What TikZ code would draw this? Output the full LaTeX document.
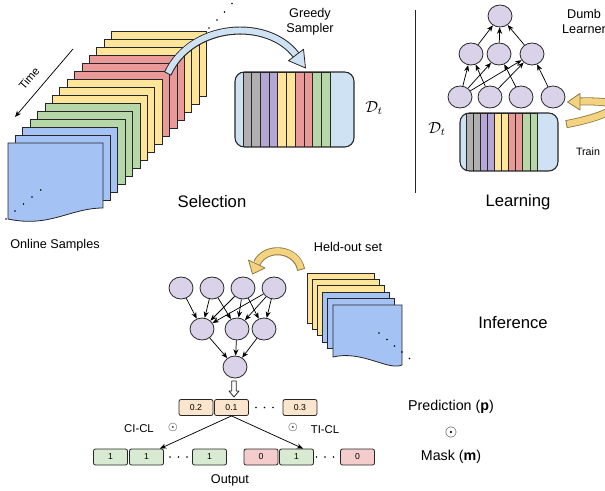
\documentclass[tikz,border=0pt]{standalone}
\usepackage{fontspec}
\setmainfont{Liberation Sans}
\usetikzlibrary{arrows.meta,shapes.geometric,calc}
\definecolor{cblue}{HTML}{A4C2F4}
\definecolor{cgreen}{HTML}{B6D7A8}
\definecolor{cyellow}{HTML}{FFE599}
\definecolor{cred}{HTML}{EA9999}
\definecolor{cgray}{HTML}{B0B0B0}
\definecolor{cpurple}{HTML}{B4A7D6}
\definecolor{cbuf}{HTML}{CFE2F3}
\definecolor{cnode}{HTML}{D9D2E9}
\definecolor{cpred}{HTML}{FCE5CD}
\definecolor{cout1}{HTML}{D9EAD3}
\definecolor{cout0}{HTML}{F4CCCC}
\definecolor{cgold}{HTML}{F3D382}
\definecolor{cgoldline}{HTML}{8C7A3E}
\definecolor{cline}{HTML}{262626}
\tikzset{
  sheet/.style={draw=cline, line width=0.6pt},
  neuron/.style={ellipse, draw=cline, fill=cnode, line width=0.6pt, minimum width=18pt, minimum height=16.5pt, inner sep=0pt},
  edge/.style={-{Stealth[length=4.8pt,width=3.8pt]}, draw=black, line width=0.55pt},
  valbox/.style={rounded corners=1.5pt, draw=cline, line width=0.6pt, minimum width=25.5pt, minimum height=12pt, inner sep=0pt, font=\fontsize{6.5}{7}\selectfont},
  lbl/.style={font=\fontsize{9.5}{11.25}\selectfont, align=center, inner sep=0pt},
  heading/.style={font=\fontsize{12.5}{14}\selectfont, inner sep=0pt},
  bufline/.style={draw=cline, line width=0.6pt},
  tinydot/.style={fill=black}
}
\begin{document}
\begin{tikzpicture}[x=0.75pt,y=-0.75pt]
\clip (0,0) rectangle (605,491);

% ---------------- Selection: online samples stack ----------------
\foreach \i/\c in {14/cyellow,13/cyellow,12/cyellow,11/cred,10/cred,9/cred,8/cyellow,7/cyellow,6/cyellow,5/cgreen,4/cgreen,3/cgreen,2/cblue,1/cblue}
  \filldraw[sheet, fill=\c] ({8+7.4*\i},{143-8*\i}) rectangle ++(95,65);
\filldraw[sheet, fill=cblue] (8,143) -- (103,143) -- (103,208) .. controls (70,208) and (50,228) .. (8,219) -- cycle;
\foreach \p in {(40.7,190),(32,197),(23.5,204),(15,211),(6,219),(209,28),(217,20),(224.5,12),(232,3.5)}
  \fill[tinydot] \p circle (0.65pt);

% time arrow
\coordinate (t0) at (73,49);
\coordinate (t1) at (15,117);
\draw[edge] (t0) -- (t1);
\node[font=\fontsize{8.5}{10}\selectfont, rotate=49.5, inner sep=0pt] (time) at (29,78) {Time};
\node[lbl] (online) at (55,245) {Online Samples};

% greedy sampler arrow
\draw[cline, line width=6pt, shorten <=-0.7pt] (168,73) .. controls (192,22) and (268,18) .. (296,55);
\draw[cbuf, line width=4.5pt] (168,73) .. controls (192,22) and (268,18) .. (296,55);
\filldraw[fill=cbuf, draw=cline, line width=0.6pt, line join=round] (303.5,49.3) -- (305.5,68) -- (288.5,60.7) -- cycle;
\node[lbl] (greedy) at (310,22) {Greedy\\Sampler};

% selection buffer
\begin{scope}
  \clip[rounded corners=7pt] (235,72) rectangle (354,147);
  \fill[cbuf] (235,72) rectangle (354,147);
  \foreach \k/\c in {0/cgray,1/cgray,2/cpurple,3/cpurple,4/cyellow,5/cyellow,6/cred,7/cred,8/cgreen,9/cgreen}
    \filldraw[bufline, fill=\c] ({243+8.7*\k},72) rectangle ++(8.7,75);
\end{scope}
\draw[cline, line width=0.8pt, rounded corners=7pt] (235,72) rectangle (354,147);
\node[font=\fontsize{12}{14}\selectfont, inner sep=0pt] (dsel) at (374,108) {$\mathcal{D}_t$};
\node[heading] (selection) at (212,202) {Selection};

% separator
\coordinate (v0) at (415,10);
\coordinate (v1) at (415,193);
\draw[cline, line width=0.7pt] (v0) -- (v1);

% ---------------- Learning ----------------
\node[neuron] (L0) at (500,16) {};
\node[neuron] (Lm1) at (471,54) {};
\node[neuron] (Lm2) at (499,54) {};
\node[neuron] (Lm3) at (532,54) {};
\node[neuron] (Lb1) at (460,97) {};
\node[neuron] (Lb2) at (490,97) {};
\node[neuron] (Lb3) at (521,97) {};
\node[neuron] (Lb4) at (553,97) {};
\foreach \a/\b in {Lm1/L0,Lm2/L0,Lm3/L0,Lb1/Lm1,Lb1/Lm2,Lb1/Lm3,Lb2/Lm1,Lb2/Lm3,Lb3/Lm2,Lb4/Lm3}
  \draw[edge] (\a) -- (\b);
\node[lbl] (dumb) at (584,21) {Dumb\\Learner};

\begin{scope}
  \clip[rounded corners=7pt] (460,113) rectangle (558,171);
  \fill[cbuf] (460,113) rectangle (558,171);
  \foreach \k/\c in {0/cgray,1/cgray,2/cpurple,3/cpurple,4/cyellow,5/cyellow,6/cred,7/cred,8/cgreen,9/cgreen}
    \filldraw[bufline, fill=\c] ({466+7.1*\k},113) rectangle ++(7.1,58);
\end{scope}
\draw[cline, line width=0.8pt, rounded corners=7pt] (460,113) rectangle (558,171);
\node[font=\fontsize{12}{14}\selectfont, inner sep=0pt] (dlearn) at (437,129) {$\mathcal{D}_t$};

% train arrow
\draw[cgoldline, line width=6pt, shorten <=-0.7pt] (567,124) .. controls (610,116) and (640,100) .. (580,101.5);
\draw[cgold, line width=4.8pt] (567,124) .. controls (610,116) and (640,100) .. (580,101.5);
\filldraw[fill=cgold, draw=cgoldline, line width=0.6pt, line join=round] (580,93.5) -- (567.5,102) -- (580,110) -- cycle;
\node[font=\fontsize{8}{10}\selectfont, inner sep=0pt] (train) at (588,152) {Train};
\node[heading] (learning) at (518,202) {Learning};

% ---------------- Inference ----------------
\node[neuron] (It1) at (181,288) {};
\node[neuron] (It2) at (212,288) {};
\node[neuron] (It3) at (243,288) {};
\node[neuron] (It4) at (274,288) {};
\node[neuron] (Im1) at (202,329) {};
\node[neuron] (Im2) at (237,329) {};
\node[neuron] (Im3) at (264,329) {};
\node[neuron] (Io) at (235,367) {};
\foreach \a/\b in {It1/Im1,It2/Im1,It2/Im2,It3/Im1,It3/Im2,It3/Im3,It4/Im1,It4/Im2,It4/Im3,Im1/Io,Im2/Io,Im3/Io}
  \draw[edge] (\a) -- (\b);

% held-out stack
\foreach \i/\c in {5/cyellow,4/cyellow,3/cyellow,2/cblue,1/cblue}
  \filldraw[sheet, fill=\c] ({333-5.2*\i},{305-6.4*\i}) rectangle ++(67,50);
\filldraw[sheet, fill=cblue] (333,305) -- (402,305) -- (402,365) .. controls (388,371) and (362,350) .. (333,357) -- cycle;
\foreach \p in {(379,333),(387,339.5),(394.5,346),(402,352),(409.5,358.5)}
  \fill[tinydot] \p circle (0.65pt);

% held-out arrow
\draw[cgoldline, line width=6pt, shorten <=-0.7pt] (301,269) .. controls (297,248) and (266,245) .. (257,263);
\draw[cgold, line width=4.6pt] (301,269) .. controls (297,248) and (266,245) .. (257,263);
\filldraw[fill=cgold, draw=cgoldline, line width=0.6pt, line join=round] (248.5,260) -- (252.5,274) -- (265,268) -- cycle;
\node[lbl] (heldout) at (348,247) {Held-out set};
\node[heading] (inference) at (513,323) {Inference};

% hollow arrow
\filldraw[fill=white, draw=cline, line width=0.6pt, line join=round] (231.8,381) -- (236.2,381) -- (236.2,391) -- (239,391) -- (234,397) -- (229,391) -- (231.8,391) -- cycle;

% prediction row
\node[valbox, fill=cpred] (P1) at (196,407.5) {0.2};
\node[valbox, fill=cpred] (P2) at (231.5,407.5) {0.1};
\node[valbox, fill=cpred] (P3) at (300,407.5) {0.3};
\foreach \x in {256,264.5,273} \fill[tinydot] (\x,407.5) circle (0.65pt);

% outputs
\node[valbox, fill=cout1] (O1) at (110.5,457) {1};
\node[valbox, fill=cout1] (O2) at (146.5,457) {1};
\node[valbox, fill=cout1] (O3) at (209.5,457) {1};
\node[valbox, fill=cout0] (O4) at (261,457) {0};
\node[valbox, fill=cout1] (O5) at (296.5,457) {1};
\node[valbox, fill=cout0] (O6) at (357.5,457) {0};
\foreach \x in {170,178.5,187,316.5,325,333.5} \fill[tinydot] (\x,457) circle (0.65pt);

\draw[edge] (P2.south) -- ([xshift=-3pt]O2.north east);
\draw[edge] (P2.south) -- ([xshift=5pt]O5.north);

\node[font=\fontsize{8.5}{10}\selectfont, inner sep=0pt] (cicl) at (139,429) {CI-CL};
\node[font=\fontsize{9}{10}\selectfont, inner sep=0pt] (od1) at (173,427) {$\odot$};
\node[font=\fontsize{9}{10}\selectfont, inner sep=0pt] (od2) at (293,427) {$\odot$};
\node[font=\fontsize{8.5}{10}\selectfont, inner sep=0pt] (ticl) at (325,430) {TI-CL};
\node[lbl] (output) at (230,480) {Output};

\node[font=\fontsize{10.7}{12}\selectfont, inner sep=0pt] (pred) at (451,407) {Prediction (\textbf{p})};
\node[font=\fontsize{13}{14}\selectfont, inner sep=0pt] (od3) at (451,432) {$\odot$};
\node[font=\fontsize{10.7}{12}\selectfont, inner sep=0pt] (mask) at (451,457) {Mask (\textbf{m})};
\end{tikzpicture}
\end{document}
